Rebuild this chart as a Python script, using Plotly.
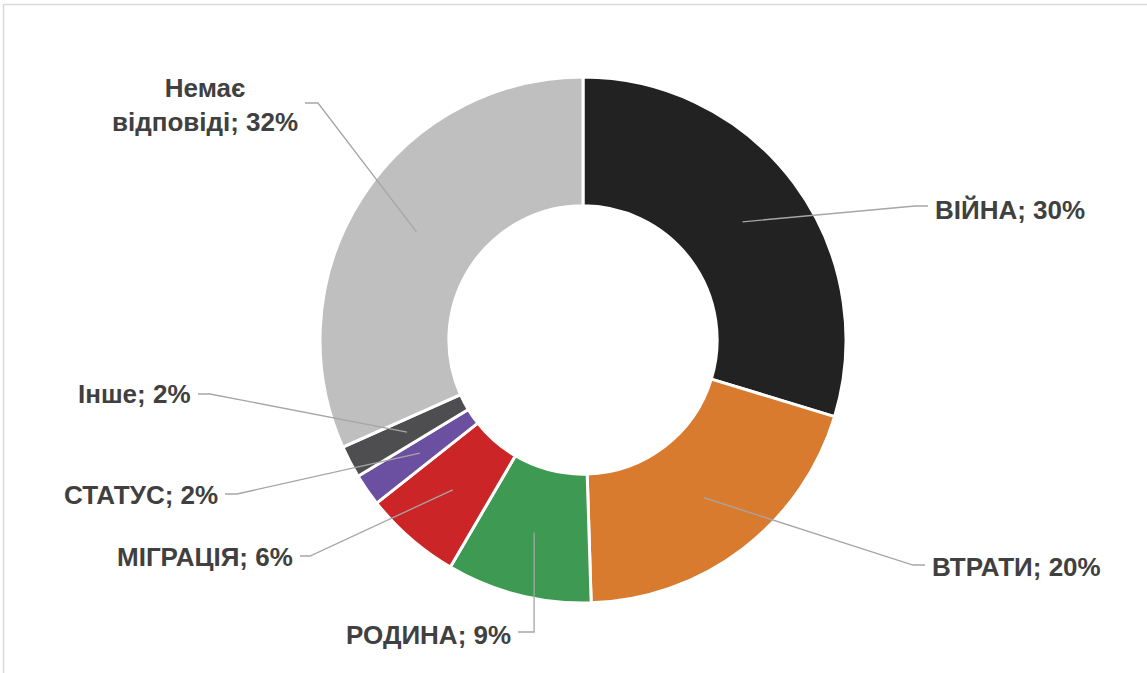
import math
import plotly.graph_objects as go

# ---- data ----
categories = ["ВІЙНА", "ВТРАТИ", "РОДИНА", "МІГРАЦІЯ", "СТАТУС", "Інше", "Немає відповіді"]
values = [30, 20, 9, 6, 2, 2, 32]
label_texts = ["ВІЙНА; 30%", "ВТРАТИ; 20%", "РОДИНА; 9%", "МІГРАЦІЯ; 6%",
               "СТАТУС; 2%", "Інше; 2%", "Немає<br>відповіді; 32%"]

# ---- style / layout ----
colors = ["#212221", "#D97B2F", "#3E9A52", "#CB2528", "#6B4FA0", "#4E4D4F", "#BFBFBF"]
W, H = 1147, 673
CX, CY, R = 583, 340, 263     # pie centre and radius in pixels
HOLE = 0.51
TEXT_COLOR = "#404040"
LINE_COLOR = "#A6A6A6"
FONT_SIZE = 26

# label layout: elbow point, end point of short tick, text anchor point, xanchor
label_layout = [
    dict(elbow=(915, 206), end=(928, 206), text=(933, 210), xanchor="left"),
    dict(elbow=(913, 565), end=(925, 565), text=(930, 567), xanchor="left"),
    dict(elbow=None, end=(518, 632), text=(513, 635), xanchor="right", vertical=True),
    dict(elbow=(310, 556), end=(300, 556), text=(295, 557), xanchor="right"),
    dict(elbow=(237, 494), end=(225, 494), text=(220, 495), xanchor="right"),
    dict(elbow=(210, 394), end=(198, 394), text=(193, 394), xanchor="right"),
    dict(elbow=(318, 103), end=(305, 103), text=(300, 105), xanchor="right"),
]

def px(x):
    return x / W

def py(y):
    return 1 - y / H

fig = go.Figure(go.Pie(
    labels=categories,
    values=values,
    hole=HOLE,
    sort=False,
    direction="clockwise",
    rotation=0,
    marker=dict(colors=colors, line=dict(color="white", width=3)),
    textinfo="none",
    hoverinfo="label+value",
    domain=dict(x=[px(CX - R), px(CX + R)], y=[py(CY + R), py(CY - R)]),
    showlegend=False,
))

# leader lines and labels computed from slice mid-angles
total = sum(values)
cum = 0
shapes = []
annotations = []
r_mid = R * (1 + HOLE) / 2
for v, txt, lay in zip(values, label_texts, label_layout):
    mid = (cum + v / 2) / total * 2 * math.pi
    cum += v
    ax = CX + r_mid * math.sin(mid)
    ay = CY - r_mid * math.cos(mid)
    ex, ey = lay["end"]
    if lay.get("vertical"):
        pts = [(ax, ay), (ax, ey), (ex, ey)]
    else:
        pts = [(ax, ay), lay["elbow"], (ex, ey)]
    path = "M " + " L ".join(f"{px(x)},{py(y)}" for x, y in pts)
    shapes.append(dict(type="path", xref="paper", yref="paper", path=path,
                       line=dict(color=LINE_COLOR, width=1.3)))
    tx, ty = lay["text"]
    annotations.append(dict(
        x=px(tx), y=py(ty), xref="paper", yref="paper",
        text=f"<b>{txt}</b>", showarrow=False,
        xanchor=lay["xanchor"], yanchor="middle", align="center",
        font=dict(family="Liberation Sans, Arial, sans-serif", size=FONT_SIZE, color=TEXT_COLOR),
    ))

# outer frame
shapes.append(dict(type="rect", xref="paper", yref="paper",
                   x0=px(3.5), y0=-0.05, x1=1.05, y1=py(4.5),
                   line=dict(color="#D9D9D9", width=1.5), fillcolor="rgba(0,0,0,0)"))

fig.update_layout(
    width=W, height=H,
    margin=dict(l=0, r=0, t=0, b=0),
    paper_bgcolor="white",
    plot_bgcolor="white",
    shapes=shapes,
    annotations=annotations,
)

fig.write_html("out.html")
